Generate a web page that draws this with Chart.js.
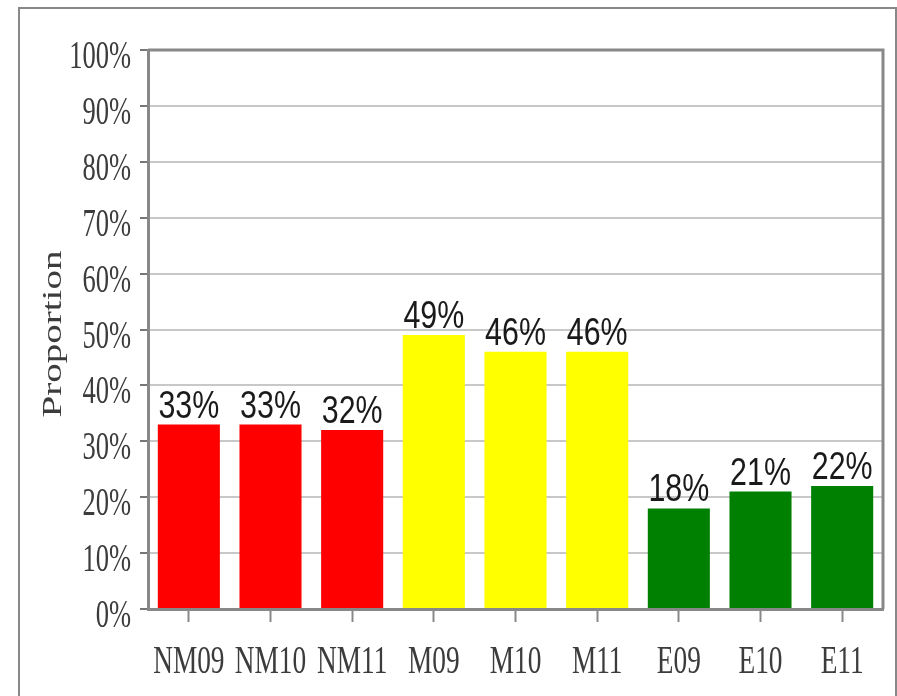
<!DOCTYPE html>
<html>
<head>
<meta charset="utf-8">
<script src="https://cdn.jsdelivr.net/npm/chart.js@4/dist/chart.umd.min.js"></script>
<style>
  body { margin: 0; background: #fff; }
  #wrap { position: relative; width: 897px; height: 696px; overflow: hidden; }
  #frame { position: absolute; left: 18px; top: 7px; width: 875px; height: 720px; border: 2px solid #888; }
  #chart { position: absolute; left: 0; top: 0; }
</style>
</head>
<body>
<div id="wrap">
  <div id="frame"></div>
  <canvas id="chart" width="897" height="696"></canvas>
</div>
<script>
const categories = ['NM09', 'NM10', 'NM11', 'M09', 'M10', 'M11', 'E09', 'E10', 'E11'];
const proportions = [33, 33, 32, 49, 46, 46, 18, 21, 22];
const barColors = ['#ff0000', '#ff0000', '#ff0000', '#ffff00', '#ffff00', '#ffff00', '#008000', '#008000', '#008000'];
const yTicks = [0, 10, 20, 30, 40, 50, 60, 70, 80, 90, 100];
const yTitle = 'Proportion';

// text in the reference is squeezed sideways, so labels are drawn here with a scale
const squeezedText = {
  id: 'squeezedText',
  afterDraw(chart) {
    const ctx = chart.ctx;
    const x = chart.scales.x;
    const y = chart.scales.y;
    const area = chart.chartArea;

    // frame round the plot
    ctx.save();
    ctx.strokeStyle = '#888';
    ctx.lineWidth = 3;
    ctx.beginPath();
    ctx.moveTo(area.left, area.top);
    ctx.lineTo(area.right, area.top);
    ctx.lineTo(area.right, area.bottom);
    ctx.stroke();
    ctx.restore();

    ctx.save();
    ctx.fillStyle = '#3c3c3c';
    ctx.font = '39px "Liberation Serif"';
    ctx.textBaseline = 'alphabetic';

    // y tick labels
    ctx.textAlign = 'right';
    yTicks.forEach(v => {
      const py = y.getPixelForValue(v);
      ctx.save();
      ctx.translate(131, py + 18);
      ctx.scale(0.68, 1);
      ctx.fillText(v + '%', 0, 0);
      ctx.restore();
    });

    // x category labels
    ctx.textAlign = 'center';
    categories.forEach((c, i) => {
      const px = x.getPixelForValue(i);
      ctx.save();
      ctx.translate(px, 673);
      ctx.scale(0.7, 1);
      ctx.fillText(c, 0, 0);
      ctx.restore();
    });

    // axis title
    ctx.save();
    ctx.translate(61, 334);
    ctx.rotate(-Math.PI / 2);
    ctx.scale(1, 0.7);
    ctx.fillText(yTitle, 0, 0);
    ctx.restore();

    // value labels above bars
    ctx.fillStyle = '#1a1a1a';
    ctx.font = '38px "Liberation Sans"';
    const meta = chart.getDatasetMeta(0);
    meta.data.forEach((bar, i) => {
      ctx.save();
      ctx.translate(bar.x, bar.y - 7);
      ctx.scale(0.8, 1);
      ctx.fillText(proportions[i] + '%', 0, 0);
      ctx.restore();
    });
    ctx.restore();
  }
};

new Chart(document.getElementById('chart'), {
  type: 'bar',
  data: {
    labels: categories,
    datasets: [{
      data: proportions,
      backgroundColor: barColors,
      borderWidth: 0,
      barPercentage: 0.76,
      categoryPercentage: 1
    }]
  },
  options: {
    responsive: false,
    animation: false,
    layout: { padding: { top: 50, right: 14, left: 0, bottom: 0 } },
    plugins: { legend: { display: false }, tooltip: { enabled: false } },
    scales: {
      x: {
        afterFit(scale) { scale.height = 87; },
        ticks: { display: false },
        grid: { offset: false, drawOnChartArea: false, tickLength: 13, tickColor: '#888', tickWidth: 2 },
        border: { color: '#888', width: 3 }
      },
      y: {
        min: 0,
        max: 100,
        afterFit(scale) { scale.width = 148; },
        afterBuildTicks(scale) { scale.ticks = yTicks.map(v => ({ value: v })); },
        ticks: { display: false },
        grid: { color: '#c8c8c8', lineWidth: 2, tickLength: 8, tickColor: '#777', tickWidth: 2 },
        border: { color: '#888', width: 3 }
      }
    }
  },
  plugins: [squeezedText]
});
</script>
</body>
</html>
